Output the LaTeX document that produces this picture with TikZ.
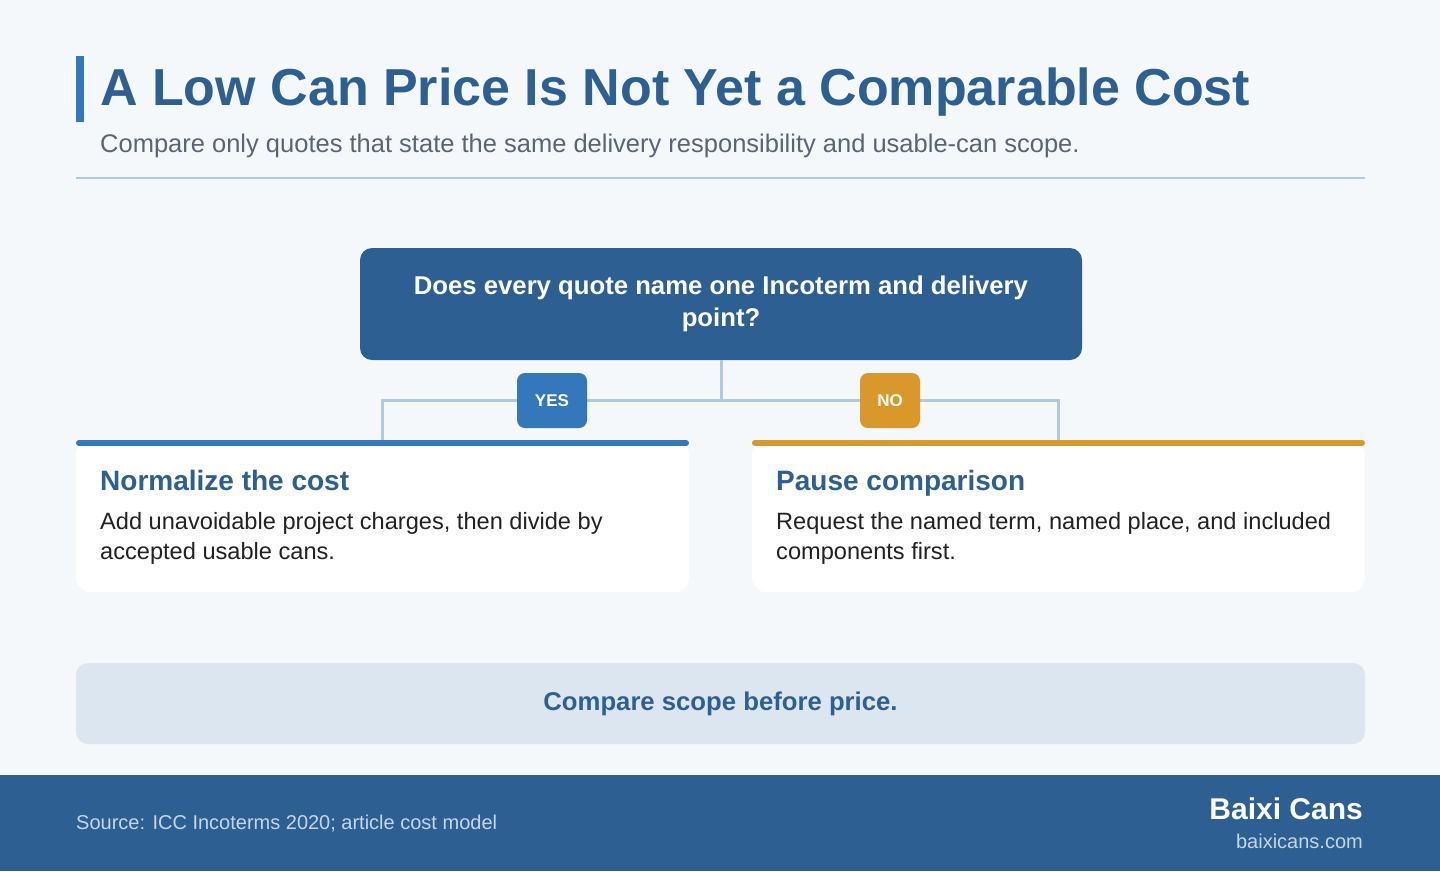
\documentclass[tikz,border=0pt]{standalone}
\usepackage{fontspec}
\setmainfont{Liberation Sans}
\usepackage{tikz}
\usetikzlibrary{positioning}

\definecolor{pagebg}{HTML}{F4F8FB}
\definecolor{navy}{HTML}{2D5F93}
\definecolor{accentblue}{HTML}{3478BB}
\definecolor{amber}{HTML}{D9982B}
\definecolor{rule}{HTML}{B0C9E0}
\definecolor{subgray}{HTML}{5B6472}
\definecolor{bodyink}{HTML}{222222}
\definecolor{notebg}{HTML}{DCE6F1}
\definecolor{footink}{HTML}{C5D6EA}

\tikzset{
  link/.style={draw=rule, line width=3pt},
  badge/.style={rounded corners=8pt, minimum height=55pt, text=white,
    font=\bfseries\fontsize{17}{20}\selectfont, inner sep=0pt},
  card/.style={fill=white, rounded corners=14pt, minimum width=613pt,
    minimum height=152pt, inner sep=0pt},
  cardhead/.style={anchor=base west, text=navy,
    font=\bfseries\fontsize{28}{32}\selectfont, inner sep=0pt},
  cardbody/.style={anchor=base west, text=bodyink, align=left,
    font=\fontsize{23.6}{30}\selectfont, inner sep=0pt}
}

\begin{document}
\begin{tikzpicture}[x=1pt, y=-1pt]

% Page and footer
\useasboundingbox (0,0) rectangle (1440,871);
\fill[pagebg] (0,0) rectangle (1440,871);
\fill[navy] (0,775) rectangle (1440,871);

% Title block
\fill[accentblue] (76,56) rectangle (84,122);
\node[anchor=base west, text=navy, inner sep=0pt,
  font=\bfseries\fontsize{52}{60}\selectfont] (title) at (100,105)
  {A Low Can Price Is Not Yet a Comparable Cost};
\node[anchor=base west, text=subgray, inner sep=0pt,
  font=\fontsize{25.5}{30}\selectfont] (subtitle) at (100,152)
  {Compare only quotes that state the same delivery responsibility and usable-can scope.};
\draw[rule, line width=2pt] (76,178) -- (1365,178);

% Decision box
\node[fill=navy, rounded corners=12pt, minimum width=722pt, minimum height=112pt,
  text=white, align=center, font=\bfseries\fontsize{25.7}{32}\selectfont] (question)
  at (721,304) {Does every quote name one Incoterm and delivery\\point?};

% Outcome cards
\node[card] (normcard) at (382.5,516) {};
\node[card] (pausecard) at (1058.5,516) {};

% Branch lines
\coordinate (split) at (721,400);
\draw[link] (question.south) -- (split) -| (normcard.north);
\draw[link] (split) -| (pausecard.north);

% Card top bars
\draw[accentblue, line width=6pt, line cap=round] (79,443) -- (686,443);
\draw[amber, line width=6pt, line cap=round] (755,443) -- (1362,443);

% Branch badges
\node[badge, fill=accentblue, minimum width=70pt] (yes) at (552,400.5) {YES};
\node[badge, fill=amber, minimum width=60pt] (no) at (890,400.5) {NO};

% Card texts
\node[cardhead] (normhead) at (100,490) {Normalize the cost};
\node[cardbody] (normbody) at (100,559)
  {Add unavoidable project charges, then divide by\\accepted usable cans.};
\node[cardhead] (pausehead) at (776,490) {Pause comparison};
\node[cardbody] (pausebody) at (776,559)
  {Request the named term, named place, and included\\components first.};

% Takeaway
\node[fill=notebg, rounded corners=12pt, minimum width=1289pt, minimum height=81pt,
  text=navy, font=\bfseries\fontsize{25.7}{30}\selectfont] (takeaway)
  at (720.5,703.5) {Compare scope before price.};

% Footer texts
\node[anchor=base west, text=footink, inner sep=0pt,
  font=\fontsize{20}{24}\selectfont] (source) at (76,829)
  {Source: ICC Incoterms 2020; article cost model};
\node[anchor=base east, text=white, inner sep=0pt,
  font=\bfseries\fontsize{30}{34}\selectfont] (brand) at (1363,819) {Baixi Cans};
\node[anchor=base east, text=footink, inner sep=0pt,
  font=\fontsize{20}{24}\selectfont] (site) at (1363,848) {baixicans.com};

\end{tikzpicture}
\end{document}
